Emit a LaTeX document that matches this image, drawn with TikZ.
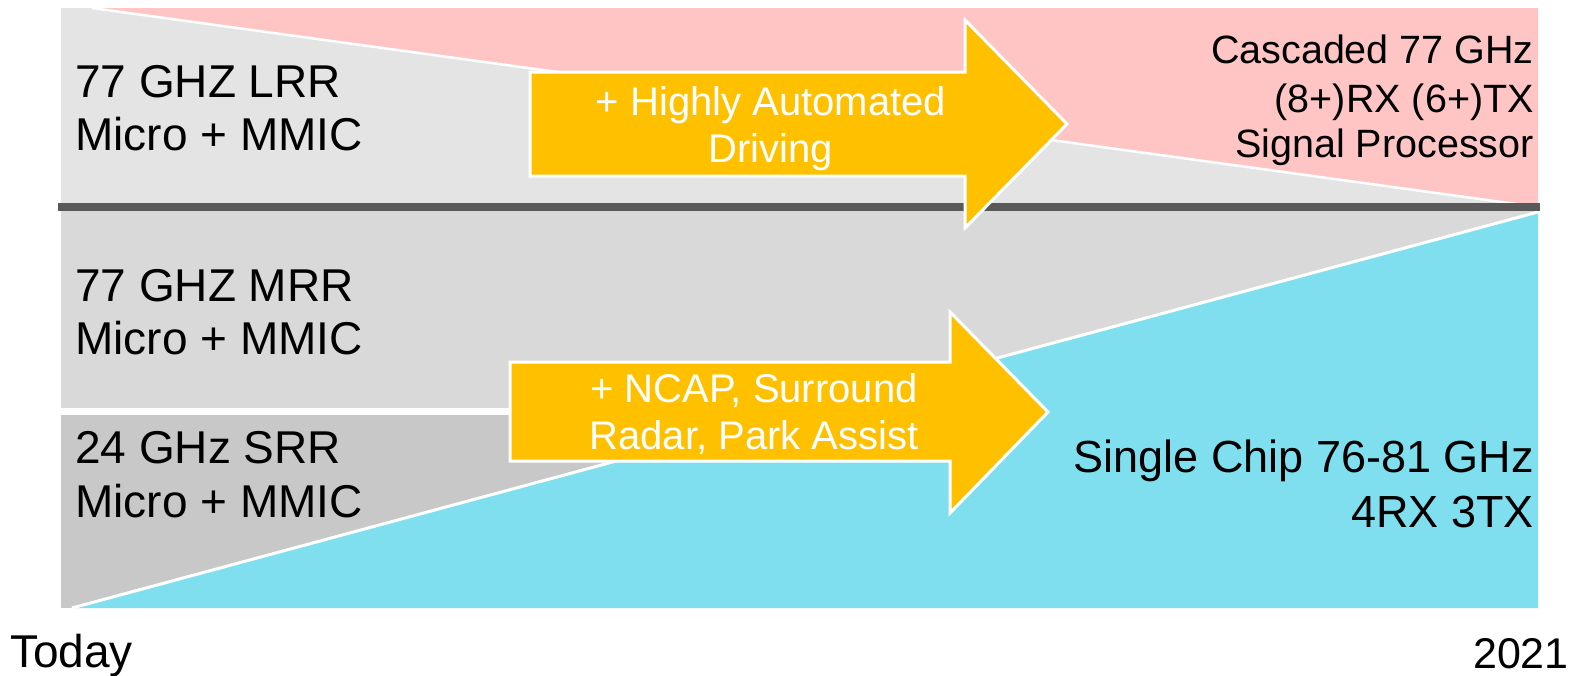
\documentclass[tikz,border=0pt]{standalone}
\usepackage{fontspec}
\setmainfont{Liberation Sans}
\definecolor{bandtop}{HTML}{E4E4E4}
\definecolor{bandmid}{HTML}{D9D9D9}
\definecolor{bandlow}{HTML}{C8C8C8}
\definecolor{cascpink}{HTML}{FFC5C5}
\definecolor{chipcyan}{HTML}{7FDFEE}
\definecolor{arrowgold}{HTML}{FFC000}
\definecolor{divgrey}{HTML}{595959}
\tikzset{
  bigarrow/.style={fill=arrowgold, draw=white, line width=3pt, line join=miter},
  seam/.style={draw=white, line width=2.5pt},
  lbl/.style={inner sep=0pt, text=black, font=\fontsize{46}{55}\selectfont},
  rlbl/.style={inner sep=0pt, text=black, font=\fontsize{39.5}{47}\selectfont, anchor=base east},
  slbl/.style={inner sep=0pt, text=black, font=\fontsize{45}{55}\selectfont, anchor=base east},
  atxt/.style={inner sep=0pt, text=white, font=\fontsize{40}{47}\selectfont, anchor=base},
  axis/.style={inner sep=0pt, text=black}
}
\begin{document}
\begin{tikzpicture}[x=1pt,y=-1pt]
\useasboundingbox (0,0) rectangle (1573,675);

% upper band: long range radar giving way to cascaded devices
\fill[bandtop] (61,8) rectangle (1538,203);
\fill[cascpink] (92,8) -- (1538,8) -- (1538,207) -- cycle;
\coordinate (pinkL) at (92,8);
\coordinate (pinkR) at (1538,207);
\draw[seam] (pinkL) -- (pinkR);

% lower band: mid and short range radar giving way to the single chip
\fill[bandmid] (61,211) rectangle (1538,408);
\fill[bandlow] (61,415) rectangle (1538,608);
\fill[chipcyan] (72,608) -- (1538,212) -- (1538,608) -- cycle;
\coordinate (cyanL) at (72,608);
\coordinate (cyanR) at (1538,212);
\draw[seam, line width=3pt] (cyanL) -- (cyanR);

% divider between the bands
\coordinate (divL) at (58,207);
\coordinate (divR) at (1540,207);
\draw[divgrey, line width=8pt] (divL) -- (divR);

% growth arrows
\draw[bigarrow] (530,72) -- (965,72) -- (965,20) -- (1067,124) -- (965,228) -- (965,176) -- (530,176) -- cycle;
\draw[bigarrow] (510,362) -- (950,362) -- (950,312) -- (1048,412) -- (950,513) -- (950,461) -- (510,461) -- cycle;

\node[atxt] (hadA) at (771,115) {+ Highly Automated};
\node[atxt] (hadB) at (771,162) {Driving};
\node[atxt] (ncapA) at (754,402) {+ NCAP, Surround};
\node[atxt] (ncapB) at (754,449) {Radar, Park Assist};

% left-hand labels
\node[lbl, anchor=base west] (lrrA) at (75,97) {77 GHZ LRR};
\node[lbl, anchor=base west] (lrrB) at (75,150) {Micro + MMIC};
\node[lbl, anchor=base west] (mrrA) at (75,301) {77 GHZ MRR};
\node[lbl, anchor=base west] (mrrB) at (75,354) {Micro + MMIC};
\node[lbl, anchor=base west] (srrA) at (75,463) {24 GHz SRR};
\node[lbl, anchor=base west] (srrB) at (75,517) {Micro + MMIC};

% right-hand labels
\node[rlbl] (cascA) at (1534,63) {Cascaded 77 GHz};
\node[rlbl] (cascB) at (1534,112) {(8+)RX (6+)TX};
\node[rlbl] (cascC) at (1534,157) {Signal Processor};
\node[slbl] (chipA) at (1534,472) {Single Chip 76-81 GHz};
\node[slbl] (chipB) at (1534,527) {4RX 3TX};

% time axis ends
\node[axis, anchor=base west, font=\fontsize{46}{50}\selectfont] (today) at (10,667) {Today};
\node[axis, anchor=base east, font=\fontsize{43}{50}\selectfont] (year) at (1569,668) {2021};
\end{tikzpicture}
\end{document}
